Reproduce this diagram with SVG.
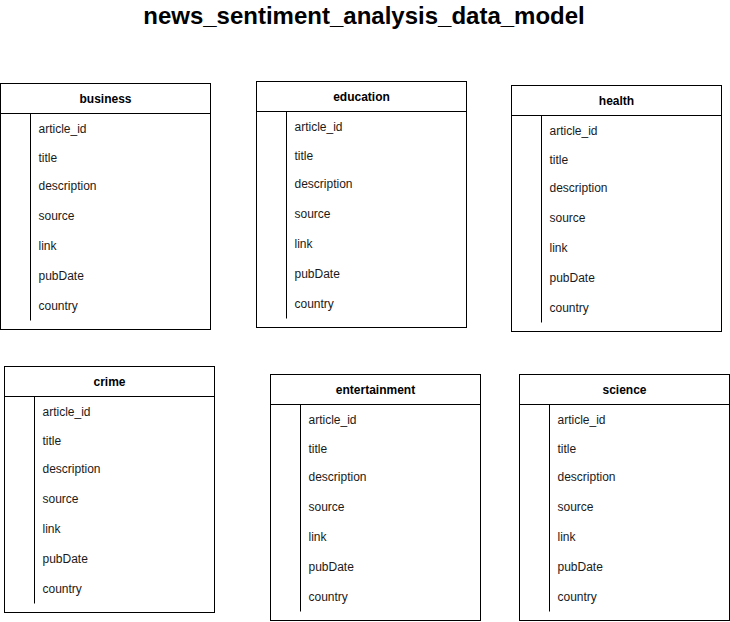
<svg xmlns="http://www.w3.org/2000/svg" width="730" height="622" viewBox="0 0 730 622">
<defs>
<style>
.box{fill:#fff;stroke:#000;stroke-width:1}
.ln{stroke:#000;stroke-width:1;fill:none}
.hd{font-family:"Liberation Sans",Arial,sans-serif;font-size:12px;font-weight:bold;fill:#000;text-anchor:middle;dominant-baseline:central}
.fd{font-family:"Liberation Sans",Arial,sans-serif;font-size:12px;fill:#1a1a1a;dominant-baseline:central}
.tt{font-family:"Liberation Sans",Arial,sans-serif;font-size:24px;font-weight:bold;fill:#000;text-anchor:middle}
</style>
<g id="tbl">
<rect class="box" x="0" y="0" width="210" height="246"/>
<line class="ln" x1="0" y1="30" x2="210" y2="30"/>
<line class="ln" x1="30" y1="30" x2="30" y2="237"/>
<text class="fd" x="38" y="45">article_id</text>
<text class="fd" x="38" y="74">title</text>
<text class="fd" x="38" y="102">description</text>
<text class="fd" x="38" y="132">source</text>
<text class="fd" x="38" y="162">link</text>
<text class="fd" x="38" y="192">pubDate</text>
<text class="fd" x="38" y="222">country</text>
</g>
</defs>
<text class="tt" x="364" y="24">news_sentiment_analysis_data_model</text>
<g id="business" transform="translate(0.5,83.5)"><use href="#tbl"/><text class="hd" x="105" y="15">business</text></g>
<g id="education" transform="translate(256.5,81.5)"><use href="#tbl"/><text class="hd" x="105" y="15">education</text></g>
<g id="health" transform="translate(511.5,85.5)"><use href="#tbl"/><text class="hd" x="105" y="15">health</text></g>
<g id="crime" transform="translate(4.5,366.5)"><use href="#tbl"/><text class="hd" x="105" y="15">crime</text></g>
<g id="entertainment" transform="translate(270.5,374.5)"><use href="#tbl"/><text class="hd" x="105" y="15">entertainment</text></g>
<g id="science" transform="translate(519.5,374.5)"><use href="#tbl"/><text class="hd" x="105" y="15">science</text></g>
<g id="connectors"></g>
</svg>
